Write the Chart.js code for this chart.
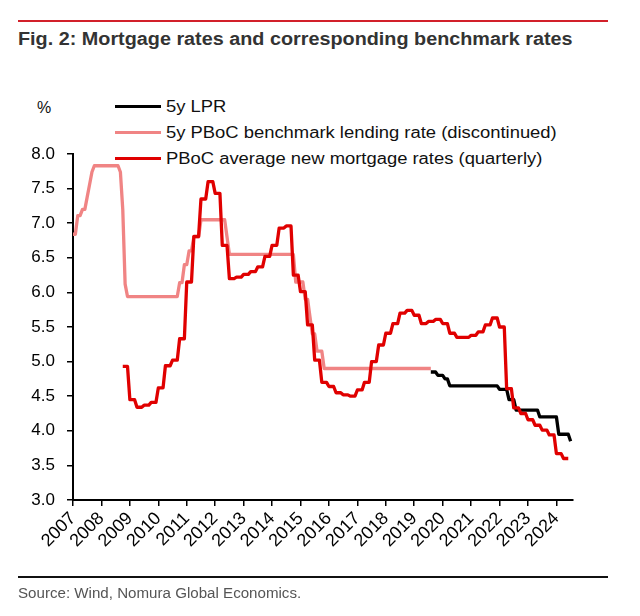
<!DOCTYPE html>
<html>
<head>
<meta charset="utf-8">
<script src="https://cdn.jsdelivr.net/npm/chart.js@4.4.1/dist/chart.umd.min.js"></script>
<style>
  html, body { margin: 0; padding: 0; background: #fff; }
  #wrap { position: relative; width: 640px; height: 616px; overflow: hidden;
          font-family: "Liberation Sans", Arial, Helvetica, sans-serif; }
  #chart { position: absolute; left: 0; top: 0; }
  .rule { position: absolute; left: 18px; width: 590px; }
  #topRule { top: 20px; height: 2px; background: #d2202a; }
  #bottomRule { top: 576px; height: 2px; background: #111; }
  #title { position: absolute; left: 18px; top: 30px; font-size: 18px; line-height: 18px;
           font-weight: bold; color: #333; white-space: nowrap;
           transform: scaleX(1.1); transform-origin: 0 0; }
  #source { position: absolute; left: 18px; top: 586px; font-size: 14px; line-height: 14px;
            color: #555; white-space: nowrap; transform: scaleX(1.08); transform-origin: 0 0; }
  #unit { position: absolute; left: 37px; top: 100px; font-size: 16px; line-height: 16px; color: #111; }
  .lg-line { position: absolute; left: 115px; width: 46px; height: 3px; }
  .lg-text { position: absolute; left: 166px; font-size: 16px; line-height: 16px; color: #111;
             white-space: nowrap; transform: scaleX(1.15); transform-origin: 0 50%; }
</style>
</head>
<body>
<div id="wrap">
  <div id="topRule" class="rule"></div>
  <div id="title">Fig. 2: Mortgage rates and corresponding benchmark rates</div>
  <div id="unit">%</div>
  <div id="legend"></div>
  <canvas id="chart" width="640" height="616"></canvas>
  <div id="bottomRule" class="rule"></div>
  <div id="source">Source: Wind, Nomura Global Economics.</div>
</div>
<script>
// ---------------- data ----------------
const seriesNames = [
  '5y LPR',
  '5y PBoC benchmark lending rate (discontinued)',
  'PBoC average new mortgage rates (quarterly)'
];
const seriesColors = ['#000000', '#f08484', '#e00000'];

// 5y PBoC benchmark lending rate (monthly change points)
const benchDates = ['2007-01','2007-02','2007-03','2007-04','2007-05','2007-06','2007-07','2007-08','2007-09','2007-10',
  '2008-08','2008-09','2008-10','2008-11','2008-12',
  '2010-09','2010-10','2010-11','2010-12','2011-01','2011-02','2011-03','2011-04','2011-06','2011-07',
  '2012-05','2012-06','2012-07',
  '2014-10','2014-11','2015-02','2015-03','2015-04','2015-05','2015-06','2015-07','2015-08','2015-10','2015-11',
  '2019-08'];
const benchValues = [6.84,6.84,7.11,7.11,7.20,7.20,7.38,7.56,7.74,7.83,
  7.83,7.74,7.20,6.12,5.94,
  5.94,6.14,6.14,6.40,6.40,6.60,6.60,6.80,6.80,7.05,
  7.05,6.80,6.55,
  6.55,6.15,6.15,5.90,5.90,5.65,5.40,5.40,5.15,5.15,4.90,
  4.90];

// 5y LPR (monthly change points)
const lprDates = ['2019-08','2019-10','2019-11','2020-01','2020-02','2020-03','2020-04','2021-12','2022-01','2022-04',
  '2022-05','2022-07','2022-08','2023-05','2023-06','2024-01','2024-02','2024-06','2024-07'];
const lprValues = [4.85,4.85,4.80,4.80,4.75,4.75,4.65,4.65,4.60,4.60,
  4.45,4.45,4.30,4.30,4.20,4.20,3.95,3.95,3.85];

// PBoC average new mortgage rate (quarterly)
const mortgageQuarters = ['2008Q4',
  '2009Q1','2009Q2','2009Q3','2009Q4','2010Q1','2010Q2','2010Q3','2010Q4',
  '2011Q1','2011Q2','2011Q3','2011Q4','2012Q1','2012Q2','2012Q3','2012Q4',
  '2013Q1','2013Q2','2013Q3','2013Q4','2014Q1','2014Q2','2014Q3','2014Q4',
  '2015Q1','2015Q2','2015Q3','2015Q4','2016Q1','2016Q2','2016Q3','2016Q4',
  '2017Q1','2017Q2','2017Q3','2017Q4','2018Q1','2018Q2','2018Q3','2018Q4',
  '2019Q1','2019Q2','2019Q3','2019Q4','2020Q1','2020Q2','2020Q3','2020Q4',
  '2021Q1','2021Q2','2021Q3','2021Q4','2022Q1','2022Q2','2022Q3','2022Q4',
  '2023Q1','2023Q2','2023Q3','2023Q4','2024Q1','2024Q2'];
const mortgageValues = [4.93,
  4.45,4.34,4.37,4.41, 4.62,4.94,5.02,5.33,
  6.15,6.81,7.35,7.60, 7.43,6.68,6.20,6.22,
  6.26,6.30,6.37,6.52, 6.68,6.93,6.96,6.25,
  6.01,5.53,5.02,4.70, 4.64,4.55,4.52,4.50,
  4.59,4.70,5.00,5.24, 5.41,5.55,5.70,5.74,
  5.67,5.55,5.58,5.61, 5.55,5.41,5.35,5.35,
  5.38,5.43,5.53,5.63, 5.50,4.61,4.33,4.25,
  4.16,4.08,4.01,3.94, 3.67,3.60];

const yearTicks = ['2007','2008','2009','2010','2011','2012','2013','2014','2015','2016',
  '2017','2018','2019','2020','2021','2022','2023','2024'];
const yTickValues = [3.0,3.5,4.0,4.5,5.0,5.5,6.0,6.5,7.0,7.5,8.0];

// ---------------- helpers ----------------
function monthX(s) { const p = s.split('-'); return +p[0] + (+p[1] - 1) / 12; }
function monthlyPoints(dates, values) { return dates.map((d, i) => ({ x: monthX(d), y: values[i] })); }
function quarterlyPoints(quarters, values) {
  const pts = [];
  quarters.forEach((q, i) => {
    const yr = +q.slice(0, 4), qn = +q.slice(5);
    for (let k = 0; k < 3; k++) pts.push({ x: yr + ((qn - 1) * 3 + k) / 12, y: values[i] });
  });
  return pts;
}

// ---------------- HTML legend ----------------
const legendTops = [106.5, 132.5, 158.5];
const lg = document.getElementById('legend');
seriesNames.forEach((name, i) => {
  const line = document.createElement('div');
  line.className = 'lg-line';
  line.style.top = (legendTops[i] - 1.5) + 'px';
  line.style.background = seriesColors[i];
  lg.appendChild(line);
  const t = document.createElement('div');
  t.className = 'lg-text';
  t.style.top = (legendTops[i] - 7.5) + 'px';
  t.textContent = name;
  lg.appendChild(t);
});

// ---------------- chart ----------------
const family = '"Liberation Sans", Arial, sans-serif';
new Chart(document.getElementById('chart'), {
  type: 'line',
  data: {
    datasets: [
      { label: seriesNames[2], data: quarterlyPoints(mortgageQuarters, mortgageValues),
        borderColor: seriesColors[2], borderWidth: 3.3, order: 0 },
      { label: seriesNames[0], data: monthlyPoints(lprDates, lprValues),
        borderColor: seriesColors[0], borderWidth: 3.3, order: 1 },
      { label: seriesNames[1], data: monthlyPoints(benchDates, benchValues),
        borderColor: seriesColors[1], borderWidth: 3.3, order: 2 }
    ]
  },
  options: {
    responsive: false,
    animation: false,
    devicePixelRatio: 1,
    parsing: false,
    elements: {
      point: { radius: 0, hoverRadius: 0 },
      line: { tension: 0, fill: false, borderJoinStyle: 'round', borderCapStyle: 'butt' }
    },
    layout: { padding: { left: 0, right: 67, top: 154, bottom: 0 } },
    plugins: { legend: { display: false }, title: { display: false }, tooltip: { enabled: false } },
    scales: {
      x: {
        type: 'linear',
        min: 2007,
        max: 2024 + 7 / 12,
        afterFit: s => { s.height = 116; },
        afterBuildTicks: s => { s.ticks = yearTicks.map(t => ({ value: +t })); },
        ticks: {
          autoSkip: false, maxRotation: 45, minRotation: 45, padding: 2,
          color: '#000', font: { family: family, size: 18 },
          callback: v => yearTicks[Math.round(v) - 2007] ?? ''
        },
        grid: { display: true, drawOnChartArea: false, drawTicks: true, tickLength: 6,
                color: '#000', lineWidth: 1.5 },
        border: { display: true, color: '#000', width: 2 }
      },
      y: {
        type: 'linear',
        min: 3,
        max: 8,
        afterFit: s => { s.width = 73; },
        afterBuildTicks: s => { s.ticks = yTickValues.map(v => ({ value: v })); },
        ticks: { color: '#000', font: { family: family, size: 17 }, padding: 12,
                 callback: v => Number(v).toFixed(1) },
        grid: { display: true, drawOnChartArea: false, drawTicks: true, tickLength: 6,
                color: '#000', lineWidth: 1.5 },
        border: { display: true, color: '#000', width: 2 }
      }
    }
  }
});
</script>
</body>
</html>
